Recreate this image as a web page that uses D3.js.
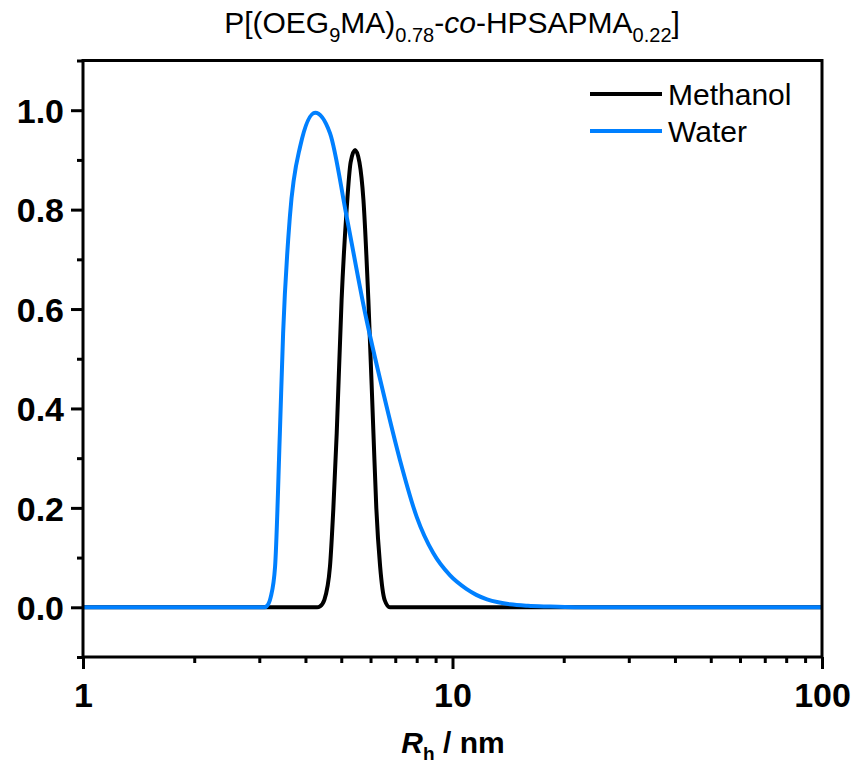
<!DOCTYPE html>
<html>
<head>
<meta charset="utf-8">
<script src="https://cdn.jsdelivr.net/npm/d3@7"></script>
<style>
    body { margin: 0; background: #fff; }
    svg text { font-family: Arial, "Liberation Sans", sans-serif; }
</style>
</head>
<body>
<div id="chart"></div>
<script>
// Values (x = Rh in nm, y = normalised intensity)
const methanolX = [1, 4.3, 4.38, 4.5, 4.66, 4.76, 4.86, 5.01, 5.17, 5.3, 5.45, 5.6, 5.74, 5.92, 6.11, 6.22, 6.37, 6.55, 6.77, 100];
const methanolY = [0, 0, 0.002, 0.015, 0.082, 0.2, 0.35, 0.618, 0.8, 0.895, 0.92, 0.895, 0.82, 0.618, 0.35, 0.2, 0.082, 0.015, 0, 0];

const waterX = [1, 3.1, 3.14, 3.22, 3.31, 3.41, 3.48, 3.63, 3.87, 4.25, 4.66, 5.17, 5.8, 6.5, 7.21, 8.0, 8.87, 9.85, 10.9, 11.6, 12.4, 13.3, 14.3, 16, 18.4, 22, 100];
const waterY = [0, 0, 0.002, 0.02, 0.082, 0.35, 0.551, 0.786, 0.927, 0.995, 0.954, 0.786, 0.592, 0.431, 0.296, 0.182, 0.109, 0.064, 0.037, 0.025, 0.016, 0.010, 0.006, 0.003, 0.0015, 0, 0];

const seriesNames = ["Methanol", "Water"];
const seriesColors = ["#000000", "#0080ff"];

const xMajor = [1, 10, 100];
const xMinor = [2, 3, 4, 5, 6, 7, 8, 9, 20, 30, 40, 50, 60, 70, 80, 90];
const yMajor = [0, 0.2, 0.4, 0.6, 0.8, 1.0];
const yMinor = [-0.1, 0.1, 0.3, 0.5, 0.7, 0.9, 1.1];

const margin = { top: 60.5, right: 33, bottom: 108, left: 83 },
    width = 855 - margin.left - margin.right,
    height = 765 - margin.top - margin.bottom;

const svg = d3.select("#chart")
    .append("svg")
    .attr("width", 855)
    .attr("height", 765)
    .append("g")
    .attr("transform", "translate(" + margin.left + "," + margin.top + ")");

const x = d3.scaleLog().domain([1, 100]).range([0, width]);
const y = d3.scaleLinear().domain([-0.1, 1.1]).range([height, 0]);

// Axes: major and minor ticks drawn outward
function styleAxis(g) {
    g.select(".domain").remove();
    g.selectAll(".tick line").attr("stroke", "#000").attr("stroke-width", 3);
}

svg.append("g")
    .attr("transform", "translate(0," + height + ")")
    .call(d3.axisBottom(x).tickValues(xMinor).tickSize(6).tickFormat(""))
    .call(styleAxis);

svg.append("g")
    .attr("transform", "translate(0," + height + ")")
    .call(d3.axisBottom(x).tickValues(xMajor).tickSize(12).tickPadding(14).tickFormat(d3.format("d")))
    .call(styleAxis)
    .selectAll("text")
    .attr("fill", "#000")
    .style("font-size", "34px")
    .style("font-weight", "bold");

svg.append("g")
    .call(d3.axisLeft(y).tickValues(yMinor).tickSize(6).tickFormat(""))
    .call(styleAxis);

svg.append("g")
    .call(d3.axisLeft(y).tickValues(yMajor).tickSize(12).tickPadding(7).tickFormat(d3.format(".1f")))
    .call(styleAxis)
    .selectAll("text")
    .attr("fill", "#000")
    .attr("dy", "0.36em")
    .style("font-size", "34px")
    .style("font-weight", "bold");

// Curves
const line = d3.line()
    .x(d => x(d[0]))
    .y(d => y(d[1]))
    .curve(d3.curveMonotoneX);

const series = [
    d3.zip(methanolX, methanolY),
    d3.zip(waterX, waterY)
];

series.forEach((pts, i) => {
    svg.append("path")
        .datum(pts)
        .attr("fill", "none")
        .attr("stroke", seriesColors[i])
        .attr("stroke-width", 4)
        .attr("stroke-linejoin", "round")
        .attr("d", line);
});

// Frame
svg.append("rect")
    .attr("width", width)
    .attr("height", height)
    .attr("fill", "none")
    .attr("stroke", "#000")
    .attr("stroke-width", 3);

// Legend
const legend = svg.selectAll(".legend")
    .data(seriesNames)
    .enter().append("g")
    .attr("class", "legend")
    .attr("transform", (d, i) => "translate(" + (590 - margin.left) + "," + (94 - margin.top + i * 37) + ")");

legend.append("line")
    .attr("x1", 0)
    .attr("x2", 72)
    .attr("stroke", (d, i) => seriesColors[i])
    .attr("stroke-width", 4);

legend.append("text")
    .attr("x", 78)
    .attr("y", 10.5)
    .style("font-size", "30px")
    .text(d => d);

// Title
const title = d3.select("svg").append("text")
    .attr("x", 452)
    .attr("y", 33)
    .attr("text-anchor", "middle")
    .style("font-size", "30px");
const titleParts = [
    ["P[(OEG", 0], ["9", 1], ["MA)", 0], ["0.78", 1], ["-", 0], ["co", 2], ["-HPSAPMA", 0], ["0.22", 1], ["]", 0]
];
let shift = 0;
titleParts.forEach(([t, k]) => {
    const dy = (k === 1 ? 9 : 0) - shift;
    shift = k === 1 ? 9 : 0;
    title.append("tspan")
        .attr("dy", dy)
        .style("font-size", k === 1 ? "20px" : null)
        .style("font-style", k === 2 ? "italic" : null)
        .text(t);
});

// X axis label
const xLabel = d3.select("svg").append("text")
    .attr("x", 453)
    .attr("y", 753)
    .attr("text-anchor", "middle")
    .style("font-size", "30px")
    .style("font-weight", "bold");
xLabel.append("tspan").style("font-style", "italic").text("R");
xLabel.append("tspan").attr("dy", 7).style("font-size", "19px").text("h");
xLabel.append("tspan").attr("dy", -7).text(" / nm");
</script>
</body>
</html>
